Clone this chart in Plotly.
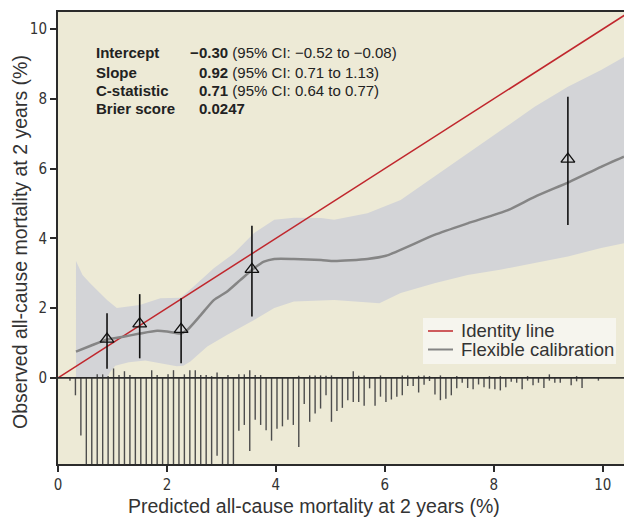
import plotly.graph_objects as go

# ---------------- data ----------------
identity_x = [0, 10.4]

cal_x = [0.33, 0.6, 0.9, 1.2, 1.5, 1.82, 2.0, 2.25, 2.37, 2.62, 2.86, 3.1, 3.35, 3.6,
         3.78, 3.97, 4.33, 4.83, 5.07, 5.68, 6.02, 6.91, 7.52, 8.26, 8.75, 9.39, 9.97, 10.39]
cal_y = [0.75, 0.92, 1.1, 1.18, 1.27, 1.35, 1.33, 1.27, 1.37, 1.80, 2.23, 2.47, 2.81, 3.14,
         3.33, 3.41, 3.41, 3.38, 3.35, 3.41, 3.5, 4.1, 4.43, 4.81, 5.19, 5.62, 6.05, 6.34]

band_upper_x = [0.33, 0.45, 0.59, 0.9, 1.08, 1.5, 1.88, 2.25, 2.49, 2.86, 3.23, 3.6, 3.97,
                4.33, 4.83, 5.07, 5.68, 6.29, 6.91, 7.52, 8.14, 8.75, 9.36, 9.97, 10.39]
band_upper_y = [3.35, 2.95, 2.71, 2.23, 2.0, 2.09, 2.28, 2.3, 2.62, 3.14, 3.57, 4.15, 4.53,
                4.59, 4.58, 4.53, 4.72, 5.1, 5.77, 6.44, 7.1, 7.77, 8.35, 8.83, 9.2]
band_lower_x = [0.33, 0.6, 0.9, 0.95, 1.05, 1.3, 1.6, 1.9, 2.18, 2.3, 2.43, 2.74, 3.1, 3.6,
                3.97, 4.33, 4.83, 5.07, 5.9, 6.29, 6.91, 7.52, 8.14, 8.75, 9.36, 9.97, 10.39]
band_lower_y = [0.0, 0.0, 0.0, 0.15, 0.35, 0.45, 0.5, 0.42, 0.33, 0.35, 0.47, 0.9, 1.23, 1.66,
                2.0, 2.19, 2.22, 2.23, 2.14, 2.43, 2.71, 2.95, 3.11, 3.29, 3.48, 3.72, 3.86]

group_x = [0.9, 1.5, 2.26, 3.56, 9.36]
group_y = [1.11, 1.55, 1.39, 3.11, 6.27]
group_lo = [0.26, 0.56, 0.42, 1.76, 4.38]
group_hi = [1.85, 2.40, 2.28, 4.36, 8.06]

spike_x = [0.22, 0.32, 0.42, 0.52, 0.62, 0.72, 0.82, 0.92, 1.02, 1.12,
           1.22, 1.32, 1.42, 1.52, 1.62, 1.72, 1.82, 1.92, 2.02, 2.12,
           2.22, 2.32, 2.42, 2.52, 2.62, 2.72, 2.82, 2.92, 3.02, 3.12,
           3.22, 3.32, 3.42, 3.52, 3.62, 3.72, 3.82, 3.92, 4.02, 4.12,
           4.22, 4.32, 4.42, 4.52, 4.62, 4.72, 4.82, 4.92, 5.02, 5.12,
           5.22, 5.32, 5.42, 5.52, 5.62, 5.72, 5.82, 5.92, 6.02, 6.12,
           6.22, 6.32, 6.42, 6.52, 6.62, 6.72, 6.82, 6.92, 7.02, 7.12,
           7.22, 7.32, 7.42, 7.52, 7.62, 7.72, 7.82, 7.92, 8.02, 8.12,
           8.22, 8.32, 8.42, 8.52, 8.62, 8.72, 8.82, 8.92, 9.02, 9.12,
           9.22, 9.32, 9.42, 9.52, 9.62, 9.72, 9.82, 9.92]
# non-events (drawn below zero)
spike_down = [0.08, 0.5, 1.65, 2.6, 2.6, 2.6, 2.6, 2.6, 2.6, 2.6,
              2.6, 2.6, 2.6, 2.6, 2.6, 2.6, 2.6, 2.6, 2.6, 2.6,
              2.6, 2.6, 2.6, 2.6, 2.6, 2.6, 2.6, 2.23, 2.6, 2.6,
              2.6, 1.52, 1.35, 2.1, 1.2, 1.35, 1.5, 1.8, 1.46, 1.39,
              1.2, 1.35, 1.98, 0.75, 1.26, 1.02, 0.88, 0.5, 1.26, 0.95,
              0.86, 0.64, 0.69, 0.69, 0.8, 0.3, 0.8, 0.54, 0.69, 0.62,
              0.54, 0.5, 0.23, 0.23, 0.42, 0.2, 0.09, 0.48, 0.64, 0.6,
              0.5, 0.3, 0.14, 0.29, 0.33, 0.19, 0.27, 0.31, 0.33, 0.36,
              0.27, 0.11, 0.14, 0.33, 0.08, 0.21, 0.14, 0.29, 0.08, 0.14,
              0.14, 0.0, 0.21, 0.1, 0.29, 0.0, 0.0, 0.08]
# events (drawn above zero)
spike_up = [0, 0, 0, 0, 0, 0.1, 0.1, 0.05, 0.27, 0.08,
            0.19, 0.08, 0, 0, 0, 0.22, 0.08, 0, 0.1, 0.22,
            0, 0.1, 0.22, 0.22, 0.08, 0.08, 0.05, 0.15, 0, 0.08,
            0, 0.1, 0.1, 0.22, 0.08, 0.08, 0, 0, 0, 0,
            0, 0, 0.06, 0, 0.07, 0.07, 0.07, 0.06, 0.07, 0,
            0, 0, 0.19, 0.06, 0.07, 0, 0, 0.07, 0, 0,
            0, 0.07, 0.07, 0, 0.06, 0.07, 0.05, 0, 0.07, 0,
            0, 0.05, 0, 0, 0, 0, 0, 0.05, 0, 0.05,
            0, 0, 0, 0, 0.05, 0, 0, 0, 0.1, 0,
            0, 0, 0, 0.05, 0, 0, 0, 0]

x_ticks = [0, 2, 4, 6, 8, 10]
y_ticks = [0, 2, 4, 6, 8, 10]

stat_labels = ["Intercept", "Slope", "C-statistic", "Brier score"]
stat_values = ["0.30", "0.92", "0.71", "0.0247"]
stat_signs = ["\u2212", "", "", ""]
stat_cis = [" (95% CI: \u22120.52 to \u22120.08)", " (95% CI: 0.71 to 1.13)",
            " (95% CI: 0.64 to 0.77)", ""]

legend_names = ["Identity line", "Flexible calibration"]
x_title = "Predicted all-cause mortality at 2 years (%)"
y_title = "Observed all-cause mortality at 2 years (%)"

# ---------------- style ----------------
BEIGE = "#EDEAD6"
BAND = "#D3D4D7"
RED = "#C0272D"
GREY = "#858585"
AX = "#2b2b2b"
TXT = "#333333"
NARROW = "DejaVu Sans Condensed, Liberation Sans Narrow, sans-serif"
REG = "Liberation Sans, Arial, sans-serif"

W, H = 624, 517
ml, mr, mt, mb = 58, 0, 12, 53
pw, ph = W - ml - mr, H - mt - mb


def px_x(p):
    return (p - ml) / pw


def px_y(p):
    return (H - mb - p) / ph


fig = go.Figure()

# confidence band
fig.add_trace(go.Scatter(
    x=band_upper_x + band_lower_x[::-1],
    y=band_upper_y + band_lower_y[::-1],
    fill="toself", fillcolor=BAND, line=dict(width=0, color=BAND),
    mode="lines", hoverinfo="skip", showlegend=False))

# spikes
sx, sy = [], []
for xv, d in zip(spike_x, spike_down):
    if d > 0:
        sx += [xv, xv, None]
        sy += [0, -d, None]
for xv, u in zip(spike_x, spike_up):
    if u > 0:
        sx += [xv, xv, None]
        sy += [0, u, None]
fig.add_trace(go.Scatter(x=sx, y=sy, mode="lines",
                         line=dict(color="#4d4d4d", width=1.4),
                         hoverinfo="skip", showlegend=False))

# identity line
fig.add_trace(go.Scatter(x=identity_x, y=identity_x, mode="lines",
                         line=dict(color=RED, width=1.5), name=legend_names[0],
                         showlegend=False))

# flexible calibration
fig.add_trace(go.Scatter(x=cal_x, y=cal_y, mode="lines", line_shape="spline",
                         line=dict(color=GREY, width=2.5, smoothing=0.6),
                         name=legend_names[1], showlegend=False))

# grouped observations
fig.add_trace(go.Scatter(
    x=group_x, y=group_y, mode="markers",
    marker=dict(symbol="triangle-up-open", size=12, color="#111111",
                line=dict(width=1.3, color="#111111")),
    error_y=dict(type="data", symmetric=False,
                 array=[h - v for h, v in zip(group_hi, group_y)],
                 arrayminus=[v - l for l, v in zip(group_lo, group_y)],
                 color="#111111", thickness=1.6, width=0),
    showlegend=False, hoverinfo="skip"))

# zero line on top
fig.add_shape(type="line", xref="paper", x0=0, x1=1, yref="y", y0=0, y1=0,
              line=dict(color=AX, width=1.8), layer="above")

# statistics text
row_y = [53, 72, 90, 108]
FS = 15
for lab, sgn, val, ci, ry in zip(stat_labels, stat_signs, stat_values, stat_cis, row_y):
    fig.add_annotation(x=px_x(94), y=px_y(ry), xref="paper", yref="paper",
                       xanchor="left", yanchor="middle", showarrow=False,
                       text="<b>" + lab + "</b>",
                       font=dict(family=REG, size=FS, color="#222222"))
    fig.add_annotation(x=px_x(197), y=px_y(ry), xref="paper", yref="paper",
                       xanchor="left", yanchor="middle", showarrow=False,
                       text="<b>" + val + "</b>" + ci,
                       font=dict(family=REG, size=FS, color="#222222"))
    if sgn:
        fig.add_annotation(x=px_x(201), y=px_y(ry), xref="paper", yref="paper",
                           xanchor="right", yanchor="middle", showarrow=False,
                           text="<b>" + sgn + "</b>",
                           font=dict(family=REG, size=FS, color="#222222"))

# legend box (drawn to match the compact reference legend)
fig.add_shape(type="rect", xref="paper", yref="paper",
              x0=px_x(423), x1=px_x(616), y0=px_y(364), y1=px_y(318),
              fillcolor="#F6F5EE", line=dict(width=0), layer="above")
for name, col, ry in zip(legend_names, [RED, GREY], [331, 349.5]):
    fig.add_shape(type="line", xref="paper", yref="paper",
                  x0=px_x(428), x1=px_x(453), y0=px_y(ry), y1=px_y(ry),
                  line=dict(color=col, width=2 if col == GREY else 1.5), layer="above")
    fig.add_annotation(x=px_x(459), y=px_y(ry), xref="paper", yref="paper",
                       xanchor="left", yanchor="middle", showarrow=False,
                       text=name, font=dict(family=REG, size=18.5, color=TXT))

# axis titles (positioned as in the reference)
fig.add_annotation(x=px_x(314), y=px_y(506), xref="paper", yref="paper",
                   xanchor="center", yanchor="middle", showarrow=False,
                   text=x_title, font=dict(family=REG, size=19.5, color=TXT))
fig.add_annotation(x=px_x(20), y=px_y(242), xref="paper", yref="paper",
                   xanchor="center", yanchor="middle", showarrow=False, textangle=-90,
                   text=y_title, font=dict(family=REG, size=19.5, color=TXT))

fig.update_layout(
    width=W, height=H,
    margin=dict(l=ml, r=mr, t=mt, b=mb),
    paper_bgcolor="white", plot_bgcolor=BEIGE,
    showlegend=False,
)
fig.update_xaxes(range=[0, 10.39], tickvals=x_ticks, ticks="outside", ticklen=6,
                 tickwidth=1.5, tickcolor=AX, showline=True, linecolor=AX, linewidth=2,
                 mirror=True, showgrid=False, zeroline=False,
                 tickfont=dict(family=NARROW, size=15, color=TXT))
fig.update_yaxes(range=[-2.47, 10.49], tickvals=y_ticks, ticks="outside", ticklen=6,
                 tickwidth=1.5, tickcolor=AX, showline=True, linecolor=AX, linewidth=2,
                 showgrid=False, zeroline=False,
                 tickfont=dict(family=NARROW, size=15, color=TXT))

fig.write_html("out.html")
